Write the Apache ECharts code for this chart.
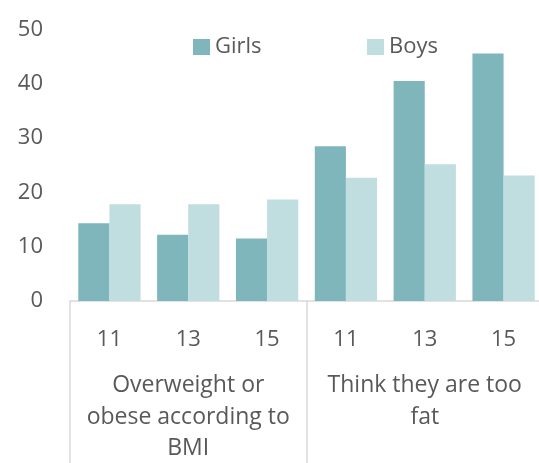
<!DOCTYPE html>
<html>
<head>
<meta charset="utf-8">
<script src="https://cdn.jsdelivr.net/npm/echarts@6/dist/echarts.min.js"></script>
<style>
  html, body { margin: 0; padding: 0; background: #fff; }
  #chart { width: 539px; height: 463px; }
</style>
</head>
<body>
<div id="chart"></div>
<script>
// Age groups shown under each bar pair
const ages = ['11', '13', '15', '11', '13', '15'];
// Indicator groups spanning three ages each
const groups = ['Overweight or\nobese according to\nBMI', 'Think they are too\nfat'];
// Percentages by sex
const girls = [14.3, 12.2, 11.5, 28.5, 40.5, 45.6];
const boys = [17.8, 17.8, 18.7, 22.7, 25.2, 23.1];
const yTicks = { min: 0, max: 50, interval: 10 };

const textColor = '#595959';
const lineColor = '#D9D9D9';
const fontFamily = '"Open Sans", sans-serif';
const fontSize = 22;

const legendText = { fontSize: fontSize, color: textColor, fontFamily: fontFamily };

const chart = echarts.init(document.getElementById('chart'), null, { renderer: 'canvas' });
chart.setOption({
  animation: false,
  textStyle: { fontFamily: fontFamily, color: textColor },
  legend: [
    { top: 31, left: 188, itemWidth: 17, itemHeight: 16, icon: 'rect', textStyle: legendText, data: ['Girls'] },
    { top: 31, left: 362, itemWidth: 17, itemHeight: 16, icon: 'rect', textStyle: legendText, data: ['Boys'] }
  ],
  grid: { left: 70, top: 29.5, width: 473, height: 271.5, outerBoundsMode: 'none' },
  xAxis: [
    {
      type: 'category',
      data: ages,
      axisLine: { lineStyle: { color: lineColor, width: 1.5 } },
      axisTick: { show: false },
      axisLabel: { interval: 0, color: textColor, fontSize: fontSize, fontFamily: fontFamily, margin: 28 }
    },
    {
      type: 'category',
      data: groups,
      position: 'bottom',
      axisLine: { show: false },
      axisTick: { show: true, interval: 0, length: 170, lineStyle: { color: lineColor, width: 1.5 } },
      axisLabel: {
        interval: 0, color: textColor, fontSize: 23, fontFamily: fontFamily,
        margin: 69, lineHeight: 31.5, align: 'center'
      }
    }
  ],
  yAxis: {
    type: 'value',
    min: yTicks.min,
    max: yTicks.max,
    interval: yTicks.interval,
    splitLine: { show: false },
    axisLine: { show: false },
    axisTick: { show: false },
    axisLabel: { color: textColor, fontSize: fontSize, fontFamily: fontFamily, margin: 27 }
  },
  series: [
    {
      name: 'Girls', type: 'bar', data: girls, xAxisIndex: 0,
      barGap: '0%', barCategoryGap: '21%',
      itemStyle: { color: '#7EB6BC' }
    },
    {
      name: 'Boys', type: 'bar', data: boys, xAxisIndex: 0,
      itemStyle: { color: '#C0DDE0' }
    }
  ]
});
</script>
</body>
</html>
